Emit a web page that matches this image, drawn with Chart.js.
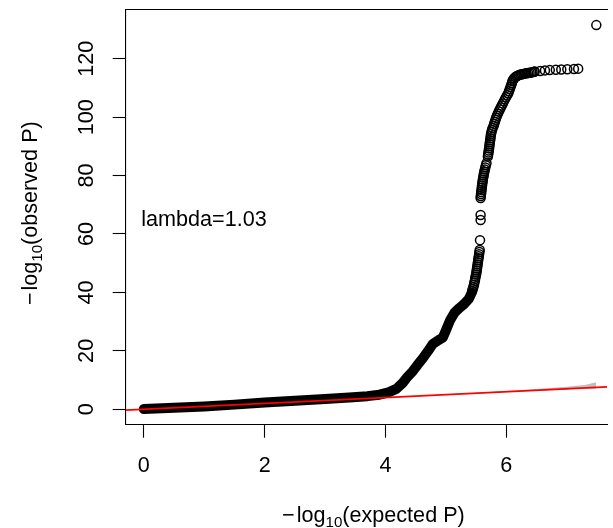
<!DOCTYPE html>
<html>
<head>
<meta charset="utf-8">
<script src="https://cdn.jsdelivr.net/npm/chart.js@4.4.1/dist/chart.umd.min.js"></script>
<style>
  html, body { margin: 0; padding: 0; background: #fff; }
  canvas { display: block; }
</style>
</head>
<body>
<canvas id="qqChart" width="613" height="528"></canvas>
<script>
var xTicks = [0, 2, 4, 6];
var yTicks = [0, 20, 40, 60, 80, 100, 120];
var xTitleWord = "expected P";
var yTitleWord = "observed P";
var lambdaText = "lambda=1.03";

// bulk of the SNPs: so many overlapping circles that they form a solid band
var denseExpected = [0, 0.5, 1.0, 1.5, 2.0, 2.5, 3.0, 3.4, 3.7, 3.9, 4.05, 4.18, 4.28, 4.36, 4.45, 4.53, 4.62, 4.70, 4.78, 4.86, 4.95, 5.01, 5.07, 5.14, 5.22, 5.30, 5.38, 5.43];
var denseObserved = [0.1, 0.5, 1.0, 1.6, 2.3, 2.9, 3.5, 4.0, 4.5, 5.0, 5.8, 7.0, 8.9, 11.0, 13.0, 15.2, 17.5, 19.8, 22.3, 23.4, 24.6, 27.5, 30.5, 33.0, 34.6, 36.0, 37.8, 40.0];

// top hits, drawn as open circles (one line per visible run in the picture)
var tailExpected = [
  5.435, 5.445, 5.455, 5.465, 5.47, 5.48, 5.485, 5.49, 5.50, 5.505, 5.51, 5.515, 5.52, 5.525, 5.53, 5.535, 5.54, 5.545, 5.55, 5.555, 5.56,
  5.565, 5.575, 5.575,
  5.575, 5.578, 5.582, 5.586, 5.59, 5.594, 5.598, 5.602, 5.607, 5.612, 5.618, 5.624, 5.63, 5.637, 5.645, 5.653, 5.662, 5.672,
  5.695, 5.70, 5.705, 5.71, 5.715, 5.72, 5.724, 5.728, 5.733, 5.738, 5.742, 5.747, 5.755, 5.764, 5.774, 5.79, 5.80, 5.81, 5.822, 5.832, 5.845, 5.86, 5.876, 5.892, 5.908, 5.925, 5.942, 5.96, 5.978, 5.996, 6.015, 6.034, 6.045, 6.058, 6.07, 6.082, 6.092,
  6.10, 6.115, 6.13, 6.15, 6.17, 6.19, 6.21, 6.235, 6.26, 6.285, 6.31, 6.335, 6.36, 6.385, 6.41, 6.435, 6.46,
  6.47, 6.56, 6.64, 6.72, 6.82, 6.91, 7.01, 7.12, 7.19,
  7.49
];
var tailObserved = [
  40.5, 41.2, 41.9, 42.6, 43.3, 44.0, 44.7, 45.4, 46.1, 46.8, 47.5, 48.2, 48.9, 49.6, 50.3, 51.0, 51.7, 52.4, 53.1, 53.8, 54.5,
  57.9, 64.8, 66.5,
  72.3, 73.0, 73.7, 74.4, 75.1, 75.8, 76.5, 77.2, 77.9, 78.6, 79.3, 80.0, 80.7, 81.4, 82.1, 82.8, 83.5, 84.2,
  86.5, 87.2, 87.9, 88.6, 89.3, 90.0, 90.7, 91.4, 92.1, 92.8, 93.5, 94.2, 94.9, 95.6, 96.3, 97.0, 97.7, 98.4, 99.1, 99.8, 100.5, 101.2, 101.9, 102.6, 103.3, 104.0, 104.7, 105.4, 106.1, 106.8, 107.5, 108.2, 108.9, 109.6, 110.3, 111.0, 111.6,
  112.3, 112.8, 113.3, 113.7, 114.0, 114.2, 114.4, 114.55, 114.7, 114.8, 114.9, 115.0, 115.1, 115.2, 115.3, 115.4, 115.5,
  115.6, 115.8, 116.0, 116.1, 116.2, 116.3, 116.4, 116.5, 116.6,
  131.5
];

// 95% band under the null
var ciExpected = [4.0, 4.5, 5.0, 5.5, 6.0, 6.5, 7.0, 7.3, 7.49];
var ciUpper = [4.03, 4.55, 5.1, 5.66, 6.25, 6.95, 7.75, 8.35, 9.25];
var ciLower = [3.99, 4.48, 4.97, 5.45, 5.92, 6.38, 6.82, 7.08, 7.0];

// y = x reference
var refExpected = [-0.3, 7.8];
var refObserved = [-0.3, 7.8];

var FONT = '"Liberation Sans", Arial, sans-serif';
var FONT_SIZE = 21.6;

function pairs(xs, ys) {
  var out = [];
  for (var i = 0; i < xs.length; i++) out.push({ x: xs[i], y: ys[i] });
  return out;
}

// draws  -log10(word)  with the 10 as a subscript, centred on (cx, baseline)
function drawLogTitle(ctx, word, cx, base, angle) {
  var subSize = FONT_SIZE * 0.7;
  var parts = [
    { t: "\u2212", size: FONT_SIZE, dy: 0, gap: 2 },
    { t: "log", size: FONT_SIZE, dy: 0, gap: 0 },
    { t: "10", size: subSize, dy: FONT_SIZE * 0.22, gap: 0 },
    { t: "(" + word + ")", size: FONT_SIZE, dy: 0, gap: 0 }
  ];
  var total = 0;
  parts.forEach(function(p) {
    ctx.font = p.size + 'px ' + FONT;
    p.w = ctx.measureText(p.t).width;
    total += p.w + p.gap;
  });
  ctx.save();
  ctx.translate(cx, base);
  ctx.rotate(angle);
  ctx.textAlign = 'left';
  ctx.textBaseline = 'alphabetic';
  var x = -total / 2;
  parts.forEach(function(p) {
    ctx.font = p.size + 'px ' + FONT;
    ctx.fillText(p.t, x, p.dy);
    x += p.w + p.gap;
  });
  ctx.restore();
}

var qqTexts = {
  id: 'qqTexts',
  afterDraw: function(chart) {
    var ctx = chart.ctx;
    var area = chart.chartArea;
    ctx.save();
    ctx.fillStyle = '#000';
    ctx.font = FONT_SIZE + 'px ' + FONT;
    ctx.textAlign = 'left';
    ctx.textBaseline = 'alphabetic';
    ctx.fillText(lambdaText, area.left + 15.5, (area.top + area.bottom) / 2 + 9);
    drawLogTitle(ctx, xTitleWord, 373.4, 522, 0);
    drawLogTitle(ctx, yTitleWord, 37, (area.top + area.bottom) / 2 - 4, -Math.PI / 2);
    ctx.restore();
  }
};

var tickFont = { family: FONT, size: FONT_SIZE };

var ctx = document.getElementById("qqChart").getContext("2d");
var myChart = new Chart(ctx, {
  type: 'line',
  data: {
    datasets: [
      {
        label: 'expected',
        data: pairs(refExpected, refObserved),
        borderColor: '#ff0000',
        borderWidth: 1.8,
        pointRadius: 0,
        fill: false
      },
      {
        label: 'top hits',
        data: pairs(tailExpected, tailObserved),
        showLine: false,
        pointRadius: 4.5,
        pointBorderWidth: 1.5,
        pointBorderColor: '#000',
        pointBackgroundColor: 'rgba(0,0,0,0)',
        fill: false
      },
      {
        label: 'bulk',
        data: pairs(denseExpected, denseObserved),
        borderColor: '#000',
        borderWidth: 10,
        borderCapStyle: 'round',
        borderJoinStyle: 'round',
        pointRadius: 0,
        fill: false
      },
      {
        label: 'ci upper',
        data: pairs(ciExpected, ciUpper),
        borderWidth: 0,
        pointRadius: 0,
        backgroundColor: '#bebebe',
        fill: '+1'
      },
      {
        label: 'ci lower',
        data: pairs(ciExpected, ciLower),
        borderWidth: 0,
        pointRadius: 0,
        fill: false
      }
    ]
  },
  options: {
    responsive: false,
    devicePixelRatio: 1,
    animation: false,
    events: [],
    layout: { padding: { top: 9.7, left: 0, right: 0, bottom: 0 } },
    plugins: {
      legend: { display: false },
      tooltip: { enabled: false }
    },
    scales: {
      x: {
        type: 'linear',
        position: 'bottom',
        min: -0.3,
        max: 7.667,
        afterBuildTicks: function(s) { s.ticks = xTicks.map(function(v) { return { value: v }; }); },
        afterFit: function(s) { s.height = 103.3; s.paddingLeft = 0; s.paddingRight = 0; },
        grid: { drawOnChartArea: false, tickLength: 13, tickColor: '#000', tickWidth: 1.1 },
        border: { display: true, color: '#000', width: 1.1 },
        ticks: { color: '#000', font: tickFont, padding: 15, minRotation: 0, maxRotation: 0, autoSkip: false }
      },
      x2: {
        type: 'linear',
        position: 'top',
        display: true,
        min: -0.3,
        max: 7.667,
        afterFit: function(s) { s.height = 0; s.paddingLeft = 0; s.paddingRight = 0; },
        grid: { display: false, drawTicks: false },
        ticks: { display: false },
        border: { display: true, color: '#000', width: 1.1 }
      },
      y: {
        type: 'linear',
        position: 'left',
        min: -5.27,
        max: 136.77,
        afterBuildTicks: function(s) { s.ticks = yTicks.map(function(v) { return { value: v }; }); },
        afterFit: function(s) { s.width = 125.7; s.paddingTop = 0; s.paddingBottom = 0; },
        grid: { drawOnChartArea: false, tickLength: 13, tickColor: '#000', tickWidth: 1.1 },
        border: { display: true, color: '#000', width: 1.1 },
        ticks: { color: '#000', font: tickFont, padding: 7.7, minRotation: 90, maxRotation: 90, crossAlign: 'center', autoSkip: false }
      }
    }
  },
  plugins: [qqTexts]
});
</script>
</body>
</html>
